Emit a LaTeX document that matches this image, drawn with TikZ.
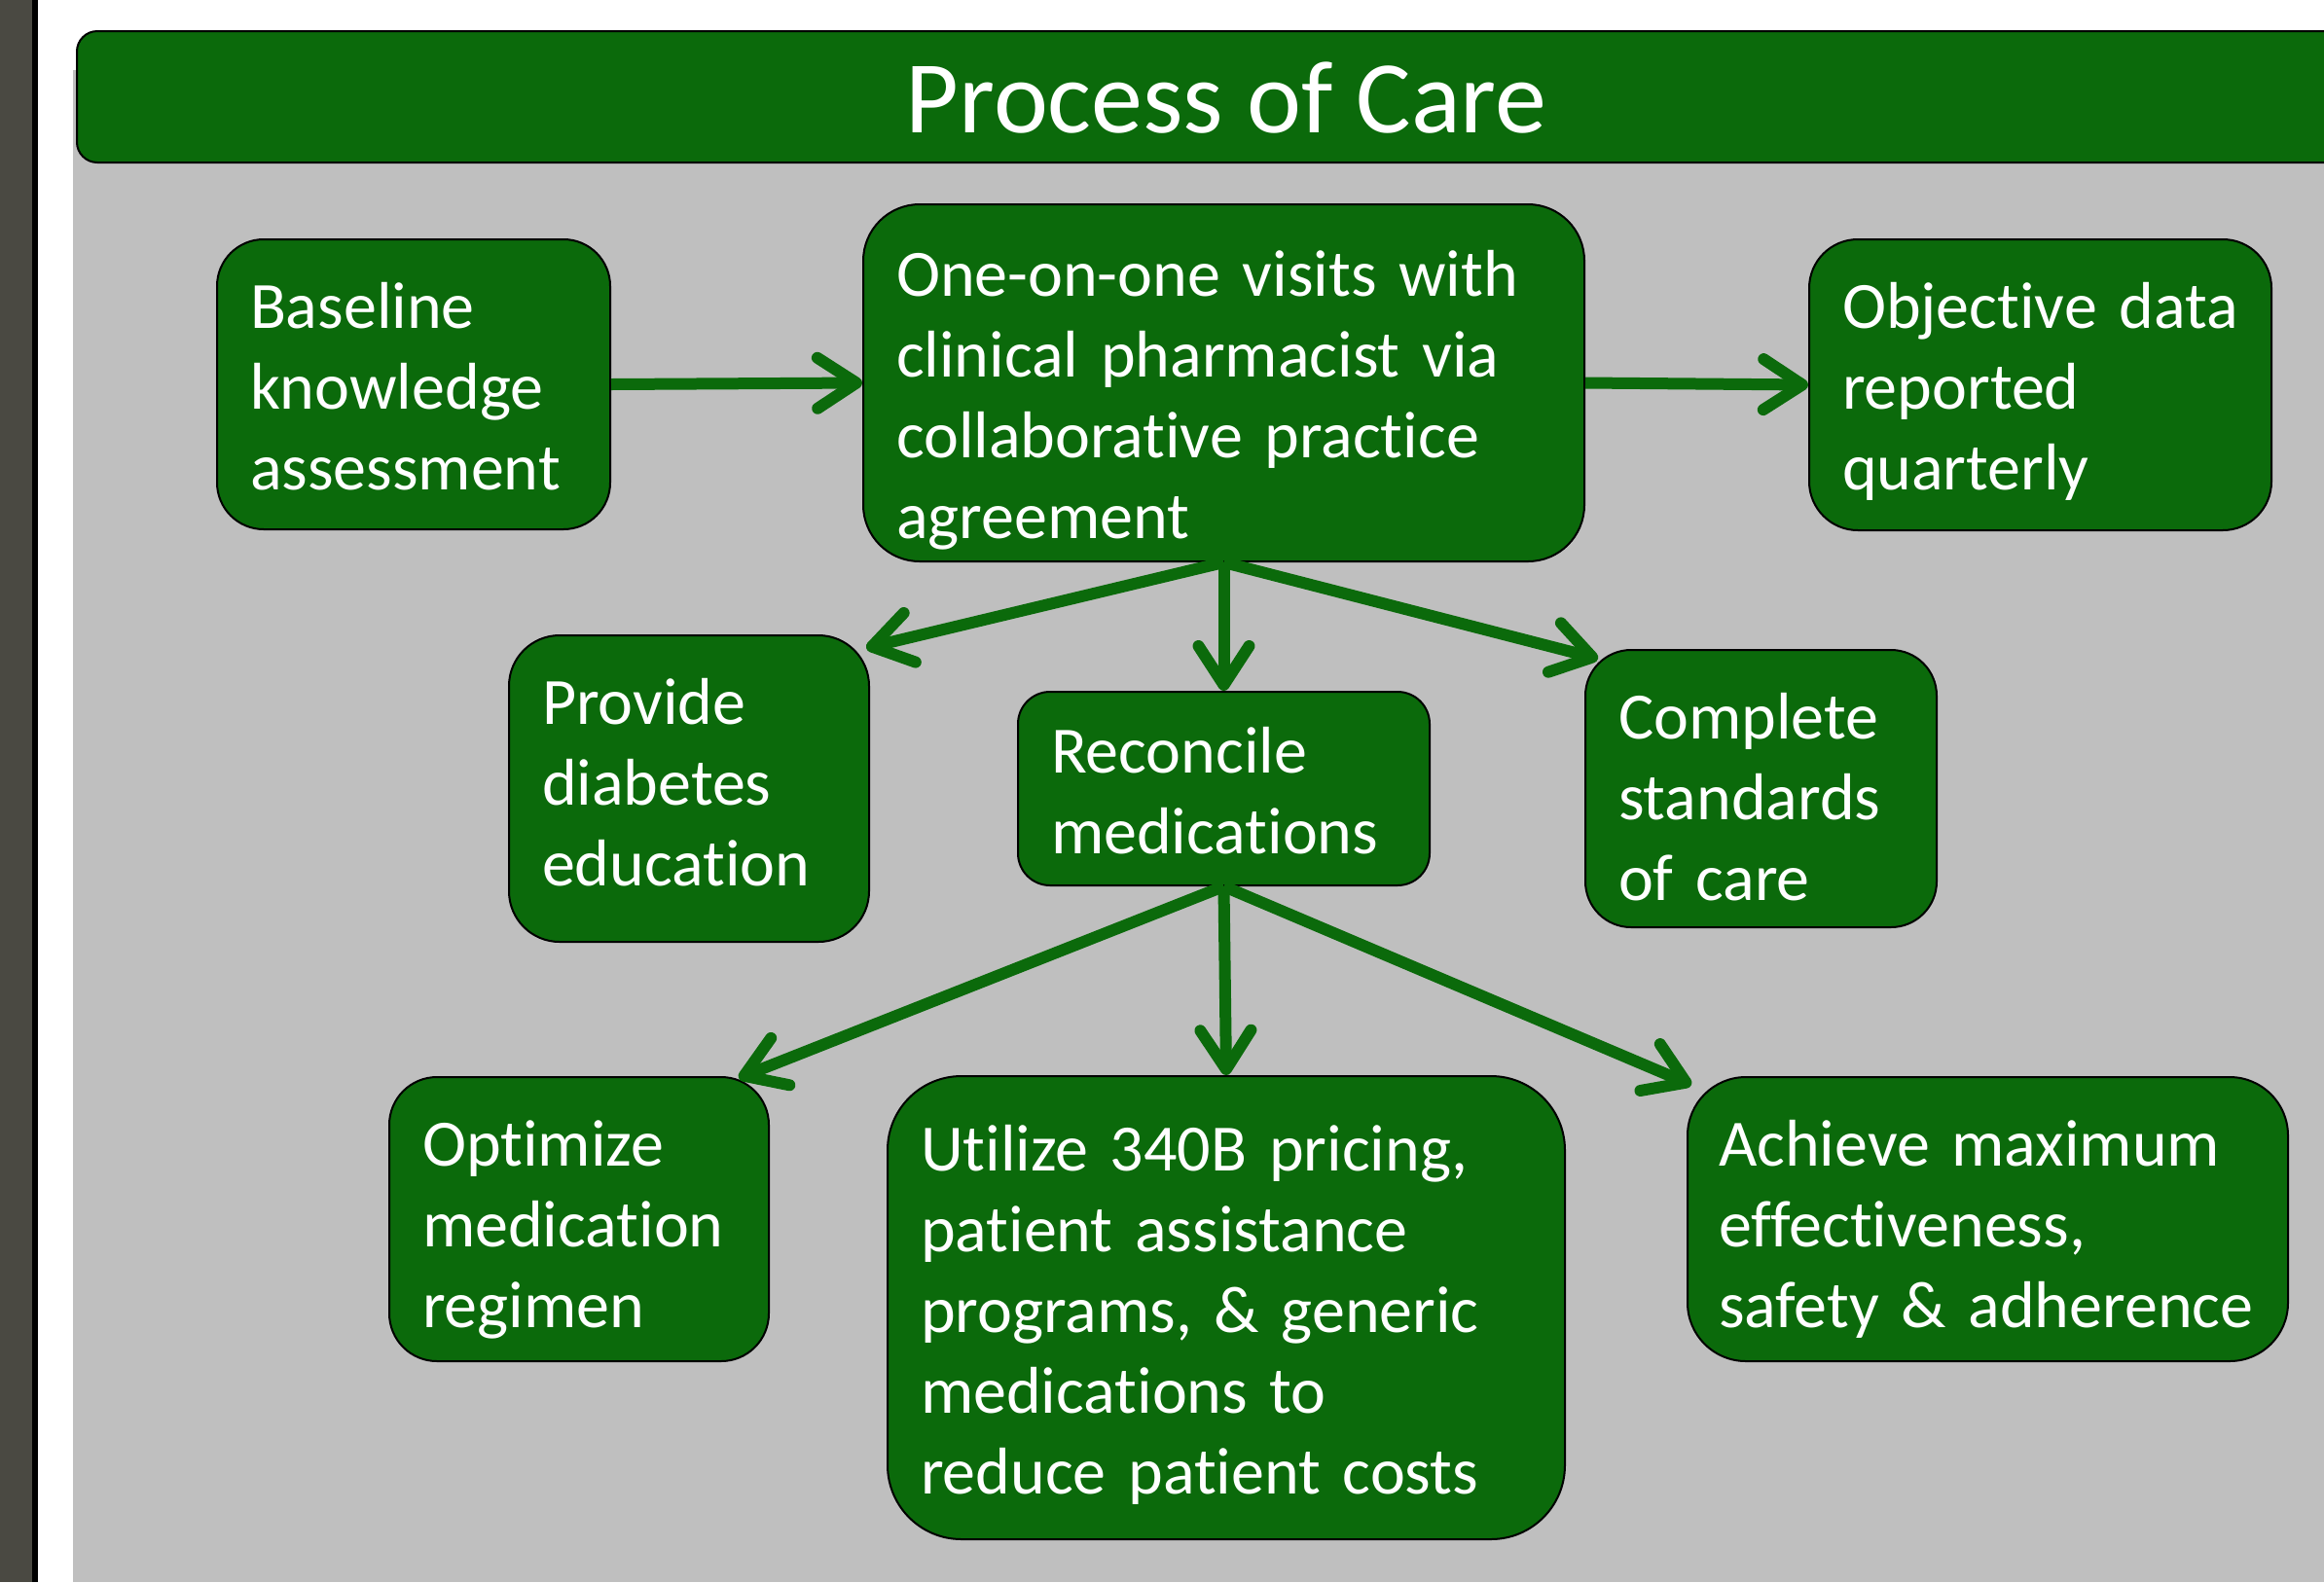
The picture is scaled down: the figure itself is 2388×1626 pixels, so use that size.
\documentclass[tikz,border=0pt]{standalone}
\usepackage{fontspec}
\setmainfont{Carlito}[Ligatures=NoCommon]
\usetikzlibrary{arrows.meta}
\definecolor{careGreen}{RGB}{11,106,11}
\definecolor{slideGray}{RGB}{191,191,191}
\definecolor{sideDark}{RGB}{74,73,66}
\newcommand{\boxfont}{\fontsize{68}{83}\selectfont}
\newcommand{\titlefont}{\fontsize{106}{127}\selectfont}
\tikzset{
  carebox/.style={draw=black, line width=2pt, fill=careGreen, text=white, font=\boxfont,
    align=left, anchor=north west, inner xsep=34pt, inner ysep=0pt, text height=91pt},
  flow/.style={draw=careGreen, line width=12pt, -{Straight Barb[length=40pt,width=52pt,round]}}
}

\begin{document}
\begin{tikzpicture}[x=1pt,y=-1pt]
\useasboundingbox (0,0) rectangle (2388,1626);
% slide background
\fill[white] (0,0) rectangle (2388,1626);
\fill[sideDark] (0,0) rectangle (33,1626);
\fill[black] (33,0) rectangle (39,1626);
\fill[slideGray] (75,72) rectangle (2388,1626);
% title bar
\draw[fill=careGreen, line width=2pt, rounded corners=21pt] (79,32) rectangle (2460,167);
\node[text=white, font=\titlefont, anchor=base] (title) at (1260,136) {Process of Care};
% top row
\node[carebox, minimum width=404pt, text width=336pt, text depth=207pt, rounded corners=48pt] (base) at (222,245) {Baseline\\knowledge\\assessment};
\node[carebox, minimum width=741pt, text width=673pt, text height=94pt, text depth=273pt, rounded corners=58pt] (visit) at (886,209) {One-on-one visits with\\clinical pharmacist via\\collaborative practice\\agreement};
\node[carebox, minimum width=475pt, text width=407pt, text depth=208pt, rounded corners=50pt] (data) at (1858,245) {Objective data\\reported\\quarterly};
% middle row
\node[carebox, minimum width=370pt, text width=302pt, text depth=224pt, rounded corners=52pt] (educ) at (522,652) {Provide\\diabetes\\education};
\node[carebox, minimum width=423pt, text width=355pt, text height=83pt, text depth=116pt, rounded corners=33pt] (recon) at (1045,710) {Reconcile\\medications};
\node[carebox, minimum width=361pt, text width=293pt, text depth=194pt, rounded corners=47pt] (stand) at (1628,667) {Complete\\standards\\of care};
% bottom row
\node[carebox, minimum width=390pt, text width=322pt, text depth=201pt, rounded corners=49pt] (optim) at (399,1106) {Optimize\\medication\\regimen};
\node[carebox, minimum width=696pt, text width=628pt, text height=97pt, text depth=379pt, rounded corners=76pt] (costs) at (911,1105) {Utilize 340B pricing,\\patient assistance\\programs, \& generic\\medications to\\reduce patient costs};
\node[carebox, minimum width=617pt, inner xsep=32pt, text width=553pt, text depth=201pt, rounded corners=60pt] (goal) at (1733,1106) {Achieve maximum\\effectiveness,\\safety \& adherence};
% arrows
\draw[flow] (base.east) -- (visit.west);
\draw[flow] (visit.east) -- (data.west);
\draw[flow] (visit.south) -- ([xshift=-4pt,yshift=-14pt]educ.north east);
\draw[flow] (visit.south) -- (recon.north);
\draw[flow] (visit.south) -- ([xshift=14pt,yshift=-10pt]stand.north west);
\draw[flow] (recon.south) -- ([xshift=-32pt,yshift=-2pt]optim.north east);
\draw[flow] (recon.south) -- (costs.north);
\draw[flow] (recon.south) -- ([xshift=5pt,yshift=-9pt]goal.north west);
\end{tikzpicture}
\end{document}
